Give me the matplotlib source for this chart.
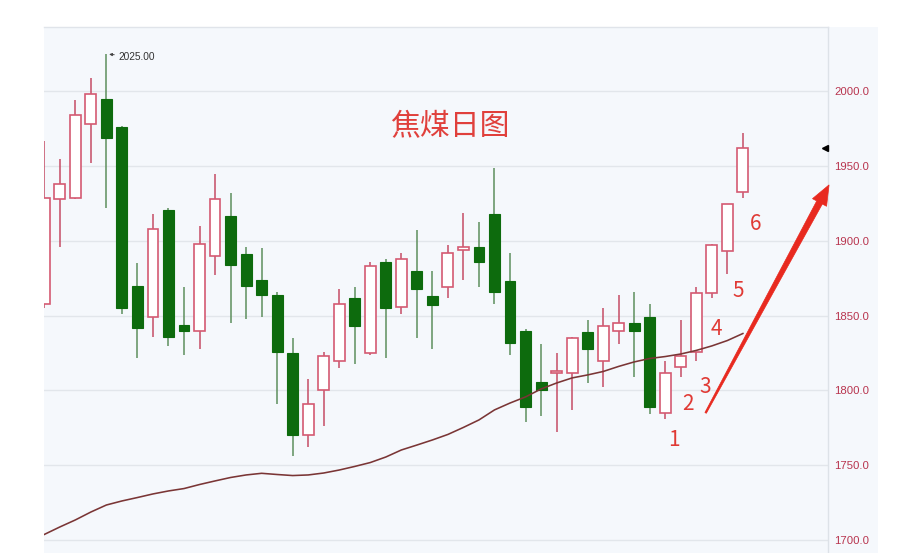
import numpy as np
import matplotlib
matplotlib.use("Agg")
import matplotlib.pyplot as plt
from matplotlib.patches import Rectangle, Polygon
import matplotlib.transforms as mtransforms

plt.rcParams['font.family'] = ['Noto Sans CJK SC', 'DejaVu Sans']

# ---------------- data ----------------
opens  = [1858, 1928, 1929, 1978, 1995, 1976, 1870, 1849, 1921, 1844,
          1840, 1890, 1917, 1891, 1874, 1864, 1825, 1770, 1800, 1820,
          1862, 1825, 1886, 1856, 1880, 1863, 1869, 1894, 1896, 1918,
          1873, 1840, 1806, 1812, 1812, 1839, 1820, 1840, 1845, 1849,
          1785, 1816, 1826, 1865, 1893, 1933]
highs  = [1967, 1955, 1994, 2009, 2025, 1977, 1885, 1918, 1922, 1869,
          1910, 1945, 1932, 1896, 1895, 1866, 1835, 1808, 1826, 1868,
          1869, 1886, 1888, 1892, 1907, 1880, 1897, 1919, 1913, 1949,
          1892, 1841, 1831, 1825, 1836, 1847, 1855, 1864, 1866, 1858,
          1820, 1847, 1869, 1898, 1925, 1972]
lows   = [1855, 1896, 1928, 1952, 1922, 1851, 1822, 1836, 1830, 1824,
          1828, 1877, 1845, 1848, 1849, 1791, 1756, 1762, 1776, 1815,
          1818, 1824, 1822, 1851, 1835, 1828, 1862, 1874, 1869, 1858,
          1824, 1779, 1783, 1772, 1787, 1805, 1802, 1831, 1809, 1784,
          1781, 1809, 1820, 1862, 1878, 1929]
closes = [1929, 1938, 1984, 1998, 1969, 1855, 1842, 1908, 1836, 1840,
          1898, 1928, 1884, 1870, 1864, 1826, 1770, 1791, 1823, 1858,
          1843, 1883, 1855, 1888, 1868, 1857, 1892, 1896, 1886, 1866,
          1832, 1789, 1800, 1812.5, 1835, 1828, 1843, 1845, 1840, 1789,
          1812, 1823, 1865, 1897, 1925, 1962]
ma_line = [1703.7, 1708.7, 1713.4, 1718.7, 1723.4, 1726.1, 1728.4, 1730.8, 1732.8, 1734.4,
           1737.1, 1739.5, 1741.8, 1743.5, 1744.6, 1743.8, 1743.1, 1743.5, 1744.8, 1746.8,
           1749.2, 1751.8, 1755.5, 1760.2, 1763.5, 1766.9, 1770.6, 1775.3, 1780.3, 1787.0,
           1791.6, 1795.7, 1801.0, 1805.0, 1808.4, 1810.4, 1812.7, 1816.1, 1819.1, 1821.4,
           1822.7, 1824.4, 1826.8, 1829.8, 1833.4, 1838.1]
y_ticks = [1700, 1750, 1800, 1850, 1900, 1950, 2000]
title_text = "焦煤日图"
count_labels = ["1", "2", "3", "4", "5", "6"]
count_first_candle = 40
peak_label = "2025.00"

# ---------------- styles ----------------
W, H = 914, 553
BG = '#f5f8fc'
UP_EDGE = '#d45a72'
UP_WICK = '#c64c65'
DN_FILL = '#0d6b0d'
DN_WICK = '#5d8f5d'
GRID = '#e2e6eb'
LABEL_RED = '#b8344e'
ARROW_RED = '#e8291f'

fig = plt.figure(figsize=(W / 100, H / 100), dpi=100, facecolor='white')

# background panel (plot + price-label strip)
fig.patches.append(Rectangle((43.5 / W, 0), (878 - 43.5) / W, 1 - 27 / H,
                             transform=fig.transFigure, facecolor=BG,
                             edgecolor='none', zorder=-5))

ax = fig.add_axes([43.5 / W, 0, (827.5 - 43.5) / W, 1 - 27 / H])
ax.set_zorder(1)
ax.set_facecolor(BG)
ax.patch.set_alpha(0)

n = len(opens)
x = np.arange(n)
ax.set_xlim(-0.05, 50.45)
ax.set_ylim(1691.3, 2043.1)

# grid
for t in y_ticks:
    ax.axhline(t, color=GRID, lw=1.0, zorder=1)

# MA line
ax.plot(x, ma_line, color='#7a3535', lw=1.15, zorder=4)

# candles
body_w = 0.70
for i in range(n):
    o, h, l, c = opens[i], highs[i], lows[i], closes[i]
    up = c >= o
    if up:
        ax.vlines(i, l, h, color=UP_WICK, lw=1.1, zorder=2)
        bot = min(o, c)
        ht = max(abs(c - o), 0.8)
        ax.add_patch(Rectangle((i - body_w / 2, bot), body_w, ht,
                               facecolor='white', edgecolor=UP_EDGE,
                               lw=1.2, zorder=3))
    else:
        ax.vlines(i, l, h, color=DN_WICK, lw=1.1, zorder=2)
        ax.add_patch(Rectangle((i - body_w / 2, c), body_w, o - c,
                               facecolor=DN_FILL, edgecolor=DN_FILL,
                               lw=0.8, zorder=3))

# spines / ticks
for s in ['left', 'bottom']:
    ax.spines[s].set_visible(False)
ax.spines['right'].set_color('#dde2e8')
ax.spines['top'].set_color('#e0e4ea')
ax.spines['right'].set_linewidth(1.0)
ax.spines['top'].set_linewidth(1.0)
ax.set_xticks([])
ax.yaxis.tick_right()
ax.set_yticks(y_ticks)
ax.set_yticklabels([f"{t:.1f}" for t in y_ticks])
ax.tick_params(axis='y', length=0, pad=5, labelsize=8.2, labelcolor=LABEL_RED)
for lab in ax.get_yticklabels():
    lab.set_family(['Liberation Sans', 'DejaVu Sans'])

# peak annotation
imax = int(np.argmax(highs))
ax.annotate(peak_label, xy=(imax, highs[imax]), xycoords='data',
            xytext=(12, -2.5), textcoords='offset pixels',
            ha='left', va='center', fontsize=7.3, color='#333333',
            family=['Liberation Sans', 'DejaVu Sans'],
            arrowprops=dict(arrowstyle='-|>', color='#444444', lw=0.7,
                            mutation_scale=4, shrinkA=1, shrinkB=2),
            zorder=6)

# last price marker on the right edge
blend = mtransforms.blended_transform_factory(ax.transAxes, ax.transData)
off = mtransforms.ScaledTranslation(-2.5 / 100, 0, fig.dpi_scale_trans)
ax.plot([1.0], [closes[-1]], marker='<', markersize=4.5, color='black',
        transform=blend + off, clip_on=False, zorder=7)

# title
fig.text(450 / W, 1 - 127 / H, title_text, ha='center', va='center',
         fontsize=21.5, color='#e0403c', family=['Noto Sans CJK SC'], zorder=5)

# count labels 1..6 under candles
dxs = [9, 7, 9, 5, 11, 13]
dys = [-10, -16, -15, -20, -6, -15]
for k, lab in enumerate(count_labels):
    idx = count_first_candle + k
    ax.annotate(lab, xy=(idx, lows[idx]), xycoords='data',
                xytext=(dxs[k], dys[k]), textcoords='offset pixels',
                ha='center', va='top', fontsize=15, color='#e03a35',
                family=['Noto Sans CJK SC', 'DejaVu Sans'], zorder=6)

# tapered red arrow (drawn in pixel space from data anchors)
fig.canvas.draw()
tail = ax.transData.transform((42.6, 1785.0))
tip = ax.transData.transform((50.55, 1937.5))
d = tip - tail
L = np.hypot(*d)
u = d / L
nrm = np.array([-u[1], u[0]])
head_len, head_w = 20.0, 8.0
w_tail, w_neck = 0.8, 3.2
neck = tip - u * head_len
pts = [tail + nrm * w_tail, neck + nrm * w_neck, neck + nrm * head_w, tip,
       neck - nrm * head_w, neck - nrm * w_neck, tail - nrm * w_tail]
fig.patches.append(Polygon(pts, closed=True, transform=None,
                           facecolor=ARROW_RED, edgecolor=ARROW_RED, lw=0.5,
                           zorder=10))

fig.savefig('out.png', dpi=100, facecolor='white')
